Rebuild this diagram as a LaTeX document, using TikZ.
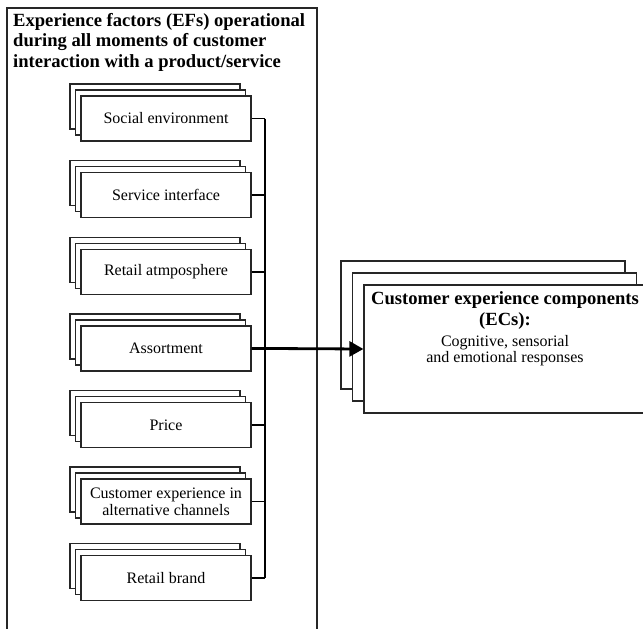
\documentclass[tikz,border=0pt]{standalone}
\usepackage{fontspec}
\setmainfont{Liberation Serif}
\usetikzlibrary{shadows,arrows.meta}
\begin{document}
\begin{tikzpicture}[x=1pt,y=-1pt,
  boxline/.style={draw=black!85,line width=1.25pt},
  factor/.style={boxline,fill=white,minimum width=170pt,minimum height=45pt,
    inner sep=0pt,align=center,font=\fontsize{16}{17}\selectfont,
    copy shadow={shadow xshift=-11pt,shadow yshift=12pt,draw=black!85,line width=1.25pt},
    copy shadow={shadow xshift=-5.5pt,shadow yshift=6pt,draw=black!85,line width=1.25pt}},
  ecbox/.style={boxline,fill=white,minimum width=284pt,minimum height=128pt,inner sep=0pt,
    copy shadow={shadow xshift=-23pt,shadow yshift=24pt,draw=black!85,line width=1.25pt},
    copy shadow={shadow xshift=-11.5pt,shadow yshift=12pt,draw=black!85,line width=1.25pt}},
  bold/.style={font=\fontsize{18.6}{20}\selectfont\bfseries},
  bus/.style={line width=1.7pt,black},
]
\useasboundingbox (0,0) rectangle (643,629);
% outer frame (open at the bottom)
\draw[boxline] (7,640) -- (7,8) -- (317,8) -- (317,640);
\node[anchor=north west,align=left,inner sep=0pt,font=\fontsize{18.6}{20.5}\selectfont\bfseries] (title) at (13,13)
  {Experience factors (EFs) operational\\during all moments of customer\\interaction with a product/service};
% factors
\node[factor] (f1) at (166,118.5) {Social environment};
\node[factor] (f2) at (166,195.2) {Service interface};
\node[factor] (f3) at (166,271.8) {Retail atmposphere};
\node[factor] (f4) at (166,348.4) {Assortment};
\node[factor] (f5) at (166,425.0) {Price};
\node[factor] (f6) at (166,501.6) {Customer experience in\\alternative channels};
\node[factor] (f7) at (166,578.2) {Retail brand};
% bus
\coordinate (bx) at (265,0);
\foreach \i in {1,...,7} {\draw[bus] (f\i.east) -- (f\i.east -| bx);}
\draw[bus] (f1.east -| bx) -- (f7.east -| bx);
% EC box
\node[ecbox] (ec) at (506,349) {};
\node[align=center,inner sep=0pt,font=\fontsize{18.6}{21}\selectfont\bfseries] (ect) at (505,311)
  {Customer experience components\\(ECs):};
\node[align=center,inner sep=0pt,font=\fontsize{16}{15.5}\selectfont] (ecb) at (505,350.5)
  {Cognitive, sensorial\\and emotional responses};
% arrow
\draw[line width=2.8pt,-{Triangle[length=14pt,width=15pt]}] (f4.east) -- (ec.west);
\end{tikzpicture}
\end{document}
